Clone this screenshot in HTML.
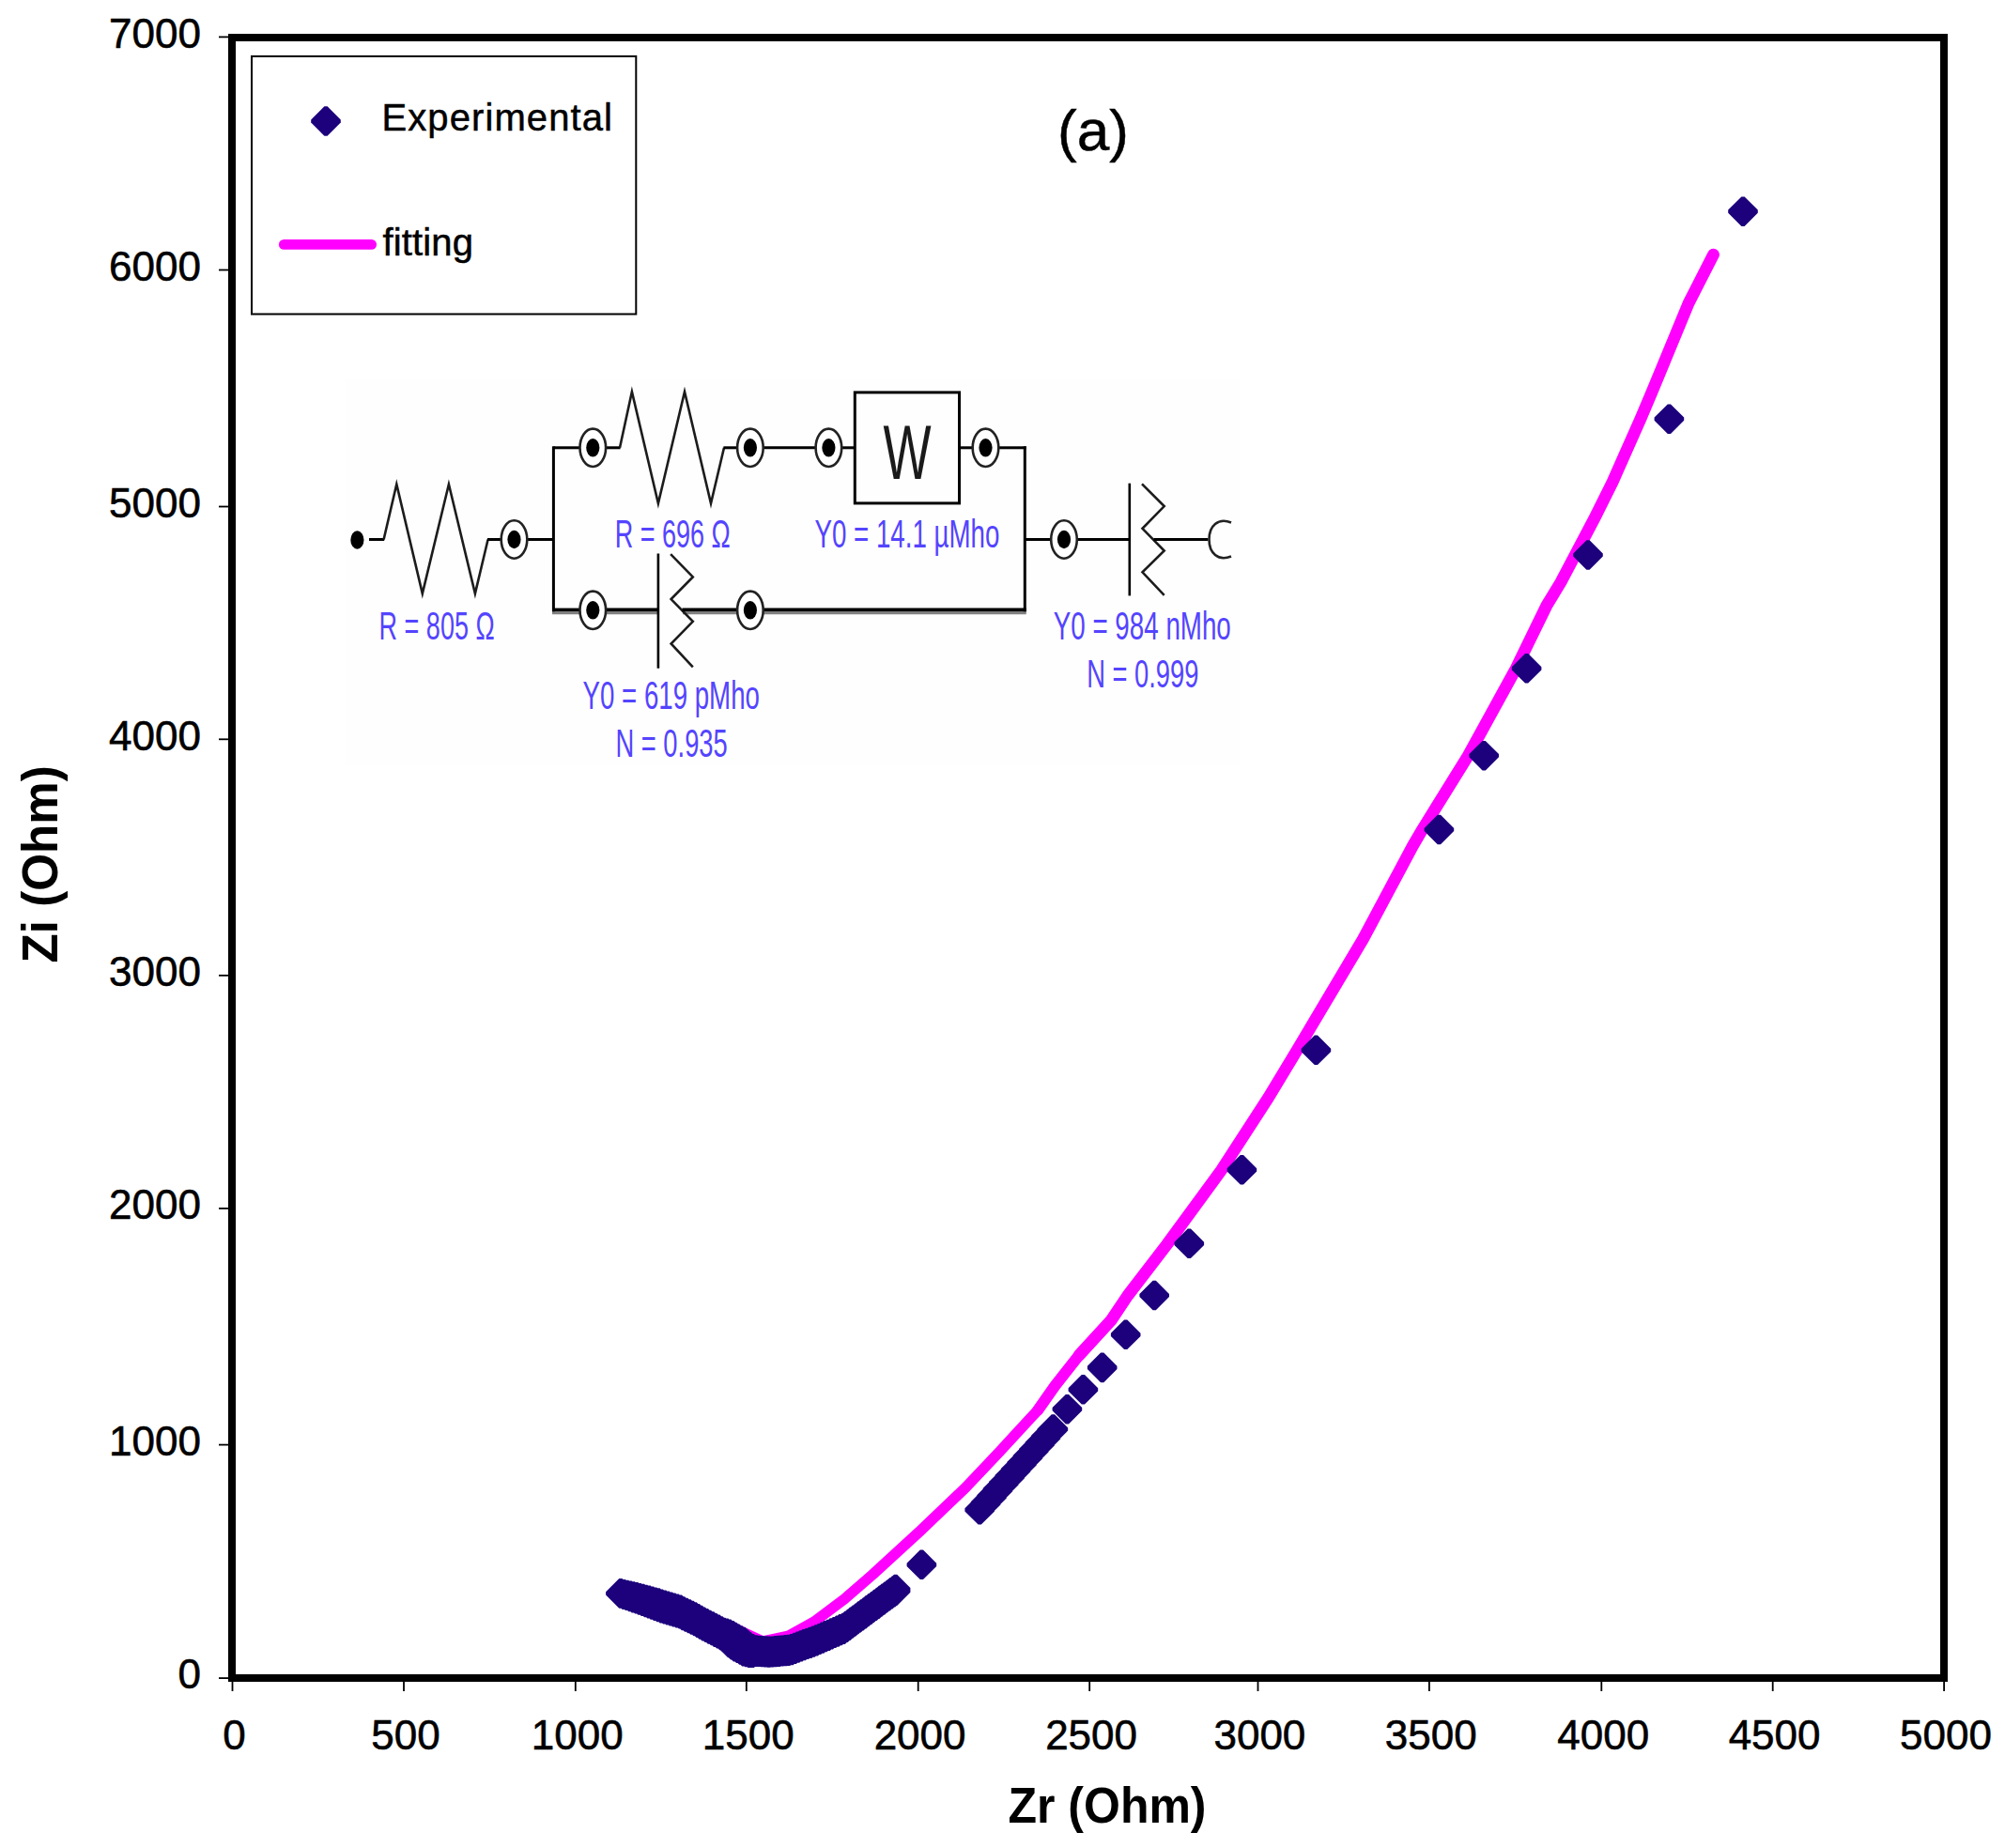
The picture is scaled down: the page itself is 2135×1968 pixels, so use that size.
<!DOCTYPE html>
<html><head><meta charset="utf-8"><title>Nyquist plot (a)</title>
<style>html,body{margin:0;padding:0;background:#fff}body{width:2135px;height:1968px;overflow:hidden}</style></head>
<body>
<svg width="2135" height="1968" viewBox="0 0 2135 1968" style="display:block">
<rect x="0" y="0" width="2135" height="1968" fill="#fff"/>
<rect x="367" y="404" width="953" height="411" fill="#fefefe"/>
<g id="circuit" fill="none" stroke="#000" stroke-width="3" stroke-linecap="butt" stroke-linejoin="miter">
<line x1="588" y1="652.6999999999999" x2="700.9" y2="652.6999999999999" stroke="#808080" stroke-width="3"/>
<line x1="727" y1="652.6999999999999" x2="1092.8" y2="652.6999999999999" stroke="#808080" stroke-width="3"/>
<line x1="393" y1="574.5" x2="409.2" y2="574.5" />
<polyline points="408.6,574.5 422.3,515.7 449.8,632.1 477.9,515.7 505.9,632.1 519.6,574.5" stroke="#1c1c1c" stroke-width="2.6" stroke-miterlimit="10"/>
<line x1="519" y1="574.5" x2="534" y2="574.5" />
<line x1="561" y1="574.5" x2="589.4" y2="574.5" />
<line x1="589.4" y1="475.3" x2="589.4" y2="651.3" />
<line x1="589.4" y1="476.8" x2="618" y2="476.8" />
<line x1="645" y1="476.8" x2="660.6" y2="476.8" />
<polyline points="660,476.8 672.9,417.2 700.9,536.1 729,417.2 757,536.1 771,476.8" stroke="#1c1c1c" stroke-width="2.6" stroke-miterlimit="10"/>
<line x1="770.4" y1="476.8" x2="786" y2="476.8" />
<line x1="812" y1="476.8" x2="869" y2="476.8" />
<line x1="896" y1="476.8" x2="910.3" y2="476.8" />
<rect x="910.3" y="417.9" width="111.2" height="118" fill="none"/>
<line x1="1021.5" y1="476.8" x2="1036" y2="476.8" />
<line x1="1063" y1="476.8" x2="1092.8" y2="476.8" />
<line x1="1091.3" y1="475.3" x2="1091.3" y2="651.3" />
<line x1="588" y1="649.4" x2="618" y2="649.4" stroke-width="3.6"/>
<line x1="645" y1="649.4" x2="700.9" y2="649.4" stroke-width="3.6"/>
<line x1="700.9" y1="589.5" x2="700.9" y2="711.7" stroke-width="2.6"/>
<polyline points="714.1,590.2 737.8,614.4 714.6,638.1 737.8,661.8 714.6,685.5 737.8,710.4" stroke="#1c1c1c" stroke-width="2.6" stroke-miterlimit="10"/>
<line x1="726.5" y1="649.4" x2="786" y2="649.4" stroke-width="3.6"/>
<line x1="812" y1="649.4" x2="1092.8" y2="649.4" stroke-width="3.6"/>
<line x1="1091.3" y1="574.5" x2="1120" y2="574.5" />
<line x1="1146" y1="574.5" x2="1202.8" y2="574.5" />
<line x1="1202.8" y1="514.7" x2="1202.8" y2="634.4" stroke-width="2.6"/>
<polyline points="1216,515.4 1239.7,539.1 1216.5,562.8 1239.7,586.5 1216.5,609.4 1239.7,633.9" stroke="#1c1c1c" stroke-width="2.6" stroke-miterlimit="10"/>
<line x1="1228.5" y1="574.5" x2="1286.4" y2="574.5" />
<path d="M1311 556.5 C1297 551 1287.5 560 1287.5 574.5 C1287.5 589 1297 598 1311 592.5" stroke="#222" stroke-width="2.6"/>
<ellipse cx="547.5" cy="574.5" rx="13.8" ry="20.2" fill="#fff" stroke="#222" stroke-width="2.6"/>
<ellipse cx="547.5" cy="574.5" rx="7.1" ry="9.7" fill="#000" stroke="none"/>
<ellipse cx="631.3" cy="476.8" rx="13.8" ry="20.2" fill="#fff" stroke="#222" stroke-width="2.6"/>
<ellipse cx="631.3" cy="476.8" rx="7.1" ry="9.7" fill="#000" stroke="none"/>
<ellipse cx="798.9" cy="476.8" rx="13.8" ry="20.2" fill="#fff" stroke="#222" stroke-width="2.6"/>
<ellipse cx="798.9" cy="476.8" rx="7.1" ry="9.7" fill="#000" stroke="none"/>
<ellipse cx="882.4" cy="476.8" rx="13.8" ry="20.2" fill="#fff" stroke="#222" stroke-width="2.6"/>
<ellipse cx="882.4" cy="476.8" rx="7.1" ry="9.7" fill="#000" stroke="none"/>
<ellipse cx="1049.5" cy="476.8" rx="13.8" ry="20.2" fill="#fff" stroke="#222" stroke-width="2.6"/>
<ellipse cx="1049.5" cy="476.8" rx="7.1" ry="9.7" fill="#000" stroke="none"/>
<ellipse cx="631.3" cy="649.8" rx="13.8" ry="20.2" fill="#fff" stroke="#222" stroke-width="2.6"/>
<ellipse cx="631.3" cy="649.8" rx="7.1" ry="9.7" fill="#000" stroke="none"/>
<ellipse cx="798.9" cy="649.8" rx="13.8" ry="20.2" fill="#fff" stroke="#222" stroke-width="2.6"/>
<ellipse cx="798.9" cy="649.8" rx="7.1" ry="9.7" fill="#000" stroke="none"/>
<ellipse cx="1133" cy="574.5" rx="13.8" ry="20.2" fill="#fff" stroke="#222" stroke-width="2.6"/>
<ellipse cx="1133" cy="574.5" rx="7.1" ry="9.7" fill="#000" stroke="none"/>
<ellipse cx="380.4" cy="575" rx="7.1" ry="9.7" fill="#000" stroke="none"/>
</g>
<text transform="translate(403.6,680.5) scale(1,1.6)" x="0" y="0" font-family="Liberation Sans, Arial, sans-serif" font-size="27" fill="#5444ff" textLength="123.0" lengthAdjust="spacingAndGlyphs">R = 805 Ω</text>
<text transform="translate(654.7,583.2) scale(1,1.6)" x="0" y="0" font-family="Liberation Sans, Arial, sans-serif" font-size="27" fill="#5444ff" textLength="123.0" lengthAdjust="spacingAndGlyphs">R = 696 Ω</text>
<text transform="translate(620.6,754.8) scale(1,1.6)" x="0" y="0" font-family="Liberation Sans, Arial, sans-serif" font-size="27" fill="#5444ff" textLength="188.3" lengthAdjust="spacingAndGlyphs">Y0 = 619 pMho</text>
<text transform="translate(655.5,806.4) scale(1,1.6)" x="0" y="0" font-family="Liberation Sans, Arial, sans-serif" font-size="27" fill="#5444ff" textLength="119.2" lengthAdjust="spacingAndGlyphs">N = 0.935</text>
<text transform="translate(867.4,583.2) scale(1,1.6)" x="0" y="0" font-family="Liberation Sans, Arial, sans-serif" font-size="27" fill="#5444ff" textLength="197.0" lengthAdjust="spacingAndGlyphs">Y0 = 14.1 µMho</text>
<text transform="translate(1121.8,680.5) scale(1,1.6)" x="0" y="0" font-family="Liberation Sans, Arial, sans-serif" font-size="27" fill="#5444ff" textLength="189.0" lengthAdjust="spacingAndGlyphs">Y0 = 984 nMho</text>
<text transform="translate(1157.2,731.6) scale(1,1.6)" x="0" y="0" font-family="Liberation Sans, Arial, sans-serif" font-size="27" fill="#5444ff" textLength="119.2" lengthAdjust="spacingAndGlyphs">N = 0.999</text>
<text transform="translate(940.5,509.7) scale(1,1.52)" x="0" y="0" font-family="Liberation Sans, Arial, sans-serif" font-size="54" fill="#1a1a1a" textLength="51.1" lengthAdjust="spacingAndGlyphs">W</text>
<polyline fill="none" stroke="#ff00ff" stroke-width="11.4" stroke-linecap="round" stroke-linejoin="round" points="779,1732 786,1736 812,1748 840,1742 867,1727 899,1703 929,1677 980,1630.2 1028,1584.4 1064,1546.3 1105.5,1501.3"/>
<polyline fill="none" stroke="#ff00ff" stroke-width="12" stroke-linecap="round" stroke-linejoin="round" points="1105.5,1501.3 1123.4,1475.8 1149.4,1442.8"/>
<polyline fill="none" stroke="#ff00ff" stroke-width="12.8" stroke-linecap="round" stroke-linejoin="round" points="1149.4,1442.8 1183.3,1405.9 1200.6,1380 1242.5,1325.4 1300.8,1245.8 1350.7,1168.7 1381.2,1118.3 1451.5,1000 1504.4,900.7 1514.5,883.5 1563.4,804.7 1614.3,711.8 1646.9,644.9 1662,620 1698.1,551.4 1717.1,513.3 1746.9,446.2 1758.8,418.1 1798.1,322.9 1824.5,271.2"/>
<path fill="#1c007c" d="M659.3 1681.1h3.2l14.200000000000001 14.200000000000001v3.2l-14.200000000000001 14.200000000000001h-3.2l-14.200000000000001 -14.200000000000001v-3.2zM659.3 1681.1h3.2l14.200000000000001 14.200000000000001v3.2l-14.200000000000001 14.200000000000001h-3.2l-14.200000000000001 -14.200000000000001v-3.2zM662.7 1681.9h3.2l14.200000000000001 14.200000000000001v3.2l-14.200000000000001 14.200000000000001h-3.2l-14.200000000000001 -14.200000000000001v-3.2zM662.7 1682.3h3.2l14.200000000000001 14.200000000000001v3.2l-14.200000000000001 14.200000000000001h-3.2l-14.200000000000001 -14.200000000000001v-3.2zM666.0 1682.7h3.2l14.200000000000001 14.200000000000001v3.2l-14.200000000000001 14.200000000000001h-3.2l-14.200000000000001 -14.200000000000001v-3.2zM666.0 1683.5h3.2l14.200000000000001 14.200000000000001v3.2l-14.200000000000001 14.200000000000001h-3.2l-14.200000000000001 -14.200000000000001v-3.2zM669.4 1683.5h3.2l14.200000000000001 14.200000000000001v3.2l-14.200000000000001 14.200000000000001h-3.2l-14.200000000000001 -14.200000000000001v-3.2zM669.4 1684.7h3.2l14.200000000000001 14.200000000000001v3.2l-14.200000000000001 14.200000000000001h-3.2l-14.200000000000001 -14.200000000000001v-3.2zM672.7 1684.3h3.2l14.200000000000001 14.200000000000001v3.2l-14.200000000000001 14.200000000000001h-3.2l-14.200000000000001 -14.200000000000001v-3.2zM672.7 1685.8h3.2l14.200000000000001 14.200000000000001v3.2l-14.200000000000001 14.200000000000001h-3.2l-14.200000000000001 -14.200000000000001v-3.2zM676.1 1685.1h3.2l14.200000000000001 14.200000000000001v3.2l-14.200000000000001 14.200000000000001h-3.2l-14.200000000000001 -14.200000000000001v-3.2zM676.1 1687.0h3.2l14.200000000000001 14.200000000000001v3.2l-14.200000000000001 14.200000000000001h-3.2l-14.200000000000001 -14.200000000000001v-3.2zM679.4 1685.9h3.2l14.200000000000001 14.200000000000001v3.2l-14.200000000000001 14.200000000000001h-3.2l-14.200000000000001 -14.200000000000001v-3.2zM679.4 1688.2h3.2l14.200000000000001 14.200000000000001v3.2l-14.200000000000001 14.200000000000001h-3.2l-14.200000000000001 -14.200000000000001v-3.2zM682.8 1686.8h3.2l14.200000000000001 14.200000000000001v3.2l-14.200000000000001 14.200000000000001h-3.2l-14.200000000000001 -14.200000000000001v-3.2zM682.8 1689.4h3.2l14.200000000000001 14.200000000000001v3.2l-14.200000000000001 14.200000000000001h-3.2l-14.200000000000001 -14.200000000000001v-3.2zM686.1 1687.7h3.2l14.200000000000001 14.200000000000001v3.2l-14.200000000000001 14.200000000000001h-3.2l-14.200000000000001 -14.200000000000001v-3.2zM686.1 1690.7h3.2l14.200000000000001 14.200000000000001v3.2l-14.200000000000001 14.200000000000001h-3.2l-14.200000000000001 -14.200000000000001v-3.2zM689.4 1688.6h3.2l14.200000000000001 14.200000000000001v3.2l-14.200000000000001 14.200000000000001h-3.2l-14.200000000000001 -14.200000000000001v-3.2zM689.4 1692.0h3.2l14.200000000000001 14.200000000000001v3.2l-14.200000000000001 14.200000000000001h-3.2l-14.200000000000001 -14.200000000000001v-3.2zM692.8 1689.5h3.2l14.200000000000001 14.200000000000001v3.2l-14.200000000000001 14.200000000000001h-3.2l-14.200000000000001 -14.200000000000001v-3.2zM692.8 1693.2h3.2l14.200000000000001 14.200000000000001v3.2l-14.200000000000001 14.200000000000001h-3.2l-14.200000000000001 -14.200000000000001v-3.2zM696.1 1690.4h3.2l14.200000000000001 14.200000000000001v3.2l-14.200000000000001 14.200000000000001h-3.2l-14.200000000000001 -14.200000000000001v-3.2zM696.1 1694.5h3.2l14.200000000000001 14.200000000000001v3.2l-14.200000000000001 14.200000000000001h-3.2l-14.200000000000001 -14.200000000000001v-3.2zM699.4 1691.3h3.2l14.200000000000001 14.200000000000001v3.2l-14.200000000000001 14.200000000000001h-3.2l-14.200000000000001 -14.200000000000001v-3.2zM699.4 1695.7h3.2l14.200000000000001 14.200000000000001v3.2l-14.200000000000001 14.200000000000001h-3.2l-14.200000000000001 -14.200000000000001v-3.2zM702.7 1692.4h3.2l14.200000000000001 14.200000000000001v3.2l-14.200000000000001 14.200000000000001h-3.2l-14.200000000000001 -14.200000000000001v-3.2zM702.7 1696.8h3.2l14.200000000000001 14.200000000000001v3.2l-14.200000000000001 14.200000000000001h-3.2l-14.200000000000001 -14.200000000000001v-3.2zM706.1 1693.5h3.2l14.200000000000001 14.200000000000001v3.2l-14.200000000000001 14.200000000000001h-3.2l-14.200000000000001 -14.200000000000001v-3.2zM706.1 1697.9h3.2l14.200000000000001 14.200000000000001v3.2l-14.200000000000001 14.200000000000001h-3.2l-14.200000000000001 -14.200000000000001v-3.2zM709.4 1694.5h3.2l14.200000000000001 14.200000000000001v3.2l-14.200000000000001 14.200000000000001h-3.2l-14.200000000000001 -14.200000000000001v-3.2zM709.4 1698.9h3.2l14.200000000000001 14.200000000000001v3.2l-14.200000000000001 14.200000000000001h-3.2l-14.200000000000001 -14.200000000000001v-3.2zM712.8 1695.5h3.2l14.200000000000001 14.200000000000001v3.2l-14.200000000000001 14.200000000000001h-3.2l-14.200000000000001 -14.200000000000001v-3.2zM712.8 1699.9h3.2l14.200000000000001 14.200000000000001v3.2l-14.200000000000001 14.200000000000001h-3.2l-14.200000000000001 -14.200000000000001v-3.2zM716.1 1696.5h3.2l14.200000000000001 14.200000000000001v3.2l-14.200000000000001 14.200000000000001h-3.2l-14.200000000000001 -14.200000000000001v-3.2zM716.1 1700.9h3.2l14.200000000000001 14.200000000000001v3.2l-14.200000000000001 14.200000000000001h-3.2l-14.200000000000001 -14.200000000000001v-3.2zM719.5 1697.5h3.2l14.200000000000001 14.200000000000001v3.2l-14.200000000000001 14.200000000000001h-3.2l-14.200000000000001 -14.200000000000001v-3.2zM719.5 1701.9h3.2l14.200000000000001 14.200000000000001v3.2l-14.200000000000001 14.200000000000001h-3.2l-14.200000000000001 -14.200000000000001v-3.2zM722.8 1698.6h3.2l14.200000000000001 14.200000000000001v3.2l-14.200000000000001 14.200000000000001h-3.2l-14.200000000000001 -14.200000000000001v-3.2zM722.8 1703.0h3.2l14.200000000000001 14.200000000000001v3.2l-14.200000000000001 14.200000000000001h-3.2l-14.200000000000001 -14.200000000000001v-3.2zM725.9 1700.2h3.2l14.200000000000001 14.200000000000001v3.2l-14.200000000000001 14.200000000000001h-3.2l-14.200000000000001 -14.200000000000001v-3.2zM725.9 1704.6h3.2l14.200000000000001 14.200000000000001v3.2l-14.200000000000001 14.200000000000001h-3.2l-14.200000000000001 -14.200000000000001v-3.2zM729.1 1701.7h3.2l14.200000000000001 14.200000000000001v3.2l-14.200000000000001 14.200000000000001h-3.2l-14.200000000000001 -14.200000000000001v-3.2zM729.1 1706.1h3.2l14.200000000000001 14.200000000000001v3.2l-14.200000000000001 14.200000000000001h-3.2l-14.200000000000001 -14.200000000000001v-3.2zM732.3 1703.2h3.2l14.200000000000001 14.200000000000001v3.2l-14.200000000000001 14.200000000000001h-3.2l-14.200000000000001 -14.200000000000001v-3.2zM732.3 1707.6h3.2l14.200000000000001 14.200000000000001v3.2l-14.200000000000001 14.200000000000001h-3.2l-14.200000000000001 -14.200000000000001v-3.2zM735.4 1704.7h3.2l14.200000000000001 14.200000000000001v3.2l-14.200000000000001 14.200000000000001h-3.2l-14.200000000000001 -14.200000000000001v-3.2zM735.4 1709.1h3.2l14.200000000000001 14.200000000000001v3.2l-14.200000000000001 14.200000000000001h-3.2l-14.200000000000001 -14.200000000000001v-3.2zM738.5 1706.3h3.2l14.200000000000001 14.200000000000001v3.2l-14.200000000000001 14.200000000000001h-3.2l-14.200000000000001 -14.200000000000001v-3.2zM738.5 1710.7h3.2l14.200000000000001 14.200000000000001v3.2l-14.200000000000001 14.200000000000001h-3.2l-14.200000000000001 -14.200000000000001v-3.2zM741.6 1708.0h3.2l14.200000000000001 14.200000000000001v3.2l-14.200000000000001 14.200000000000001h-3.2l-14.200000000000001 -14.200000000000001v-3.2zM741.6 1712.4h3.2l14.200000000000001 14.200000000000001v3.2l-14.200000000000001 14.200000000000001h-3.2l-14.200000000000001 -14.200000000000001v-3.2zM744.6 1709.8h3.2l14.200000000000001 14.200000000000001v3.2l-14.200000000000001 14.200000000000001h-3.2l-14.200000000000001 -14.200000000000001v-3.2zM744.6 1714.2h3.2l14.200000000000001 14.200000000000001v3.2l-14.200000000000001 14.200000000000001h-3.2l-14.200000000000001 -14.200000000000001v-3.2zM747.6 1711.5h3.2l14.200000000000001 14.200000000000001v3.2l-14.200000000000001 14.200000000000001h-3.2l-14.200000000000001 -14.200000000000001v-3.2zM747.6 1715.9h3.2l14.200000000000001 14.200000000000001v3.2l-14.200000000000001 14.200000000000001h-3.2l-14.200000000000001 -14.200000000000001v-3.2zM750.7 1713.1h3.2l14.200000000000001 14.200000000000001v3.2l-14.200000000000001 14.200000000000001h-3.2l-14.200000000000001 -14.200000000000001v-3.2zM750.7 1717.5h3.2l14.200000000000001 14.200000000000001v3.2l-14.200000000000001 14.200000000000001h-3.2l-14.200000000000001 -14.200000000000001v-3.2zM753.8 1714.7h3.2l14.200000000000001 14.200000000000001v3.2l-14.200000000000001 14.200000000000001h-3.2l-14.200000000000001 -14.200000000000001v-3.2zM753.8 1719.1h3.2l14.200000000000001 14.200000000000001v3.2l-14.200000000000001 14.200000000000001h-3.2l-14.200000000000001 -14.200000000000001v-3.2zM757.0 1716.3h3.2l14.200000000000001 14.200000000000001v3.2l-14.200000000000001 14.200000000000001h-3.2l-14.200000000000001 -14.200000000000001v-3.2zM757.0 1720.7h3.2l14.200000000000001 14.200000000000001v3.2l-14.200000000000001 14.200000000000001h-3.2l-14.200000000000001 -14.200000000000001v-3.2zM760.1 1717.9h3.2l14.200000000000001 14.200000000000001v3.2l-14.200000000000001 14.200000000000001h-3.2l-14.200000000000001 -14.200000000000001v-3.2zM760.1 1722.3h3.2l14.200000000000001 14.200000000000001v3.2l-14.200000000000001 14.200000000000001h-3.2l-14.200000000000001 -14.200000000000001v-3.2zM763.2 1719.5h3.2l14.200000000000001 14.200000000000001v3.2l-14.200000000000001 14.200000000000001h-3.2l-14.200000000000001 -14.200000000000001v-3.2zM763.2 1723.9h3.2l14.200000000000001 14.200000000000001v3.2l-14.200000000000001 14.200000000000001h-3.2l-14.200000000000001 -14.200000000000001v-3.2zM766.3 1721.2h3.2l14.200000000000001 14.200000000000001v3.2l-14.200000000000001 14.200000000000001h-3.2l-14.200000000000001 -14.200000000000001v-3.2zM766.3 1725.6h3.2l14.200000000000001 14.200000000000001v3.2l-14.200000000000001 14.200000000000001h-3.2l-14.200000000000001 -14.200000000000001v-3.2zM769.2 1722.8h3.2l14.200000000000001 14.200000000000001v3.2l-14.200000000000001 14.200000000000001h-3.2l-14.200000000000001 -14.200000000000001v-3.2zM769.2 1727.8h3.2l14.200000000000001 14.200000000000001v3.2l-14.200000000000001 14.200000000000001h-3.2l-14.200000000000001 -14.200000000000001v-3.2zM772.2 1723.6h3.2l14.200000000000001 14.200000000000001v3.2l-14.200000000000001 14.200000000000001h-3.2l-14.200000000000001 -14.200000000000001v-3.2zM772.2 1730.7h3.2l14.200000000000001 14.200000000000001v3.2l-14.200000000000001 14.200000000000001h-3.2l-14.200000000000001 -14.200000000000001v-3.2zM775.1 1724.5h3.2l14.200000000000001 14.200000000000001v3.2l-14.200000000000001 14.200000000000001h-3.2l-14.200000000000001 -14.200000000000001v-3.2zM775.1 1733.6h3.2l14.200000000000001 14.200000000000001v3.2l-14.200000000000001 14.200000000000001h-3.2l-14.200000000000001 -14.200000000000001v-3.2zM778.1 1725.9h3.2l14.200000000000001 14.200000000000001v3.2l-14.200000000000001 14.200000000000001h-3.2l-14.200000000000001 -14.200000000000001v-3.2zM778.1 1735.9h3.2l14.200000000000001 14.200000000000001v3.2l-14.200000000000001 14.200000000000001h-3.2l-14.200000000000001 -14.200000000000001v-3.2zM781.0 1727.8h3.2l14.200000000000001 14.200000000000001v3.2l-14.200000000000001 14.200000000000001h-3.2l-14.200000000000001 -14.200000000000001v-3.2zM781.0 1737.8h3.2l14.200000000000001 14.200000000000001v3.2l-14.200000000000001 14.200000000000001h-3.2l-14.200000000000001 -14.200000000000001v-3.2zM784.1 1729.5h3.2l14.200000000000001 14.200000000000001v3.2l-14.200000000000001 14.200000000000001h-3.2l-14.200000000000001 -14.200000000000001v-3.2zM784.1 1739.5h3.2l14.200000000000001 14.200000000000001v3.2l-14.200000000000001 14.200000000000001h-3.2l-14.200000000000001 -14.200000000000001v-3.2zM787.2 1731.2h3.2l14.200000000000001 14.200000000000001v3.2l-14.200000000000001 14.200000000000001h-3.2l-14.200000000000001 -14.200000000000001v-3.2zM787.2 1741.2h3.2l14.200000000000001 14.200000000000001v3.2l-14.200000000000001 14.200000000000001h-3.2l-14.200000000000001 -14.200000000000001v-3.2zM790.2 1732.8h3.2l14.200000000000001 14.200000000000001v3.2l-14.200000000000001 14.200000000000001h-3.2l-14.200000000000001 -14.200000000000001v-3.2zM790.2 1742.8h3.2l14.200000000000001 14.200000000000001v3.2l-14.200000000000001 14.200000000000001h-3.2l-14.200000000000001 -14.200000000000001v-3.2zM793.3 1735.4h3.2l14.200000000000001 14.200000000000001v3.2l-14.200000000000001 14.200000000000001h-3.2l-14.200000000000001 -14.200000000000001v-3.2zM793.3 1743.6h3.2l14.200000000000001 14.200000000000001v3.2l-14.200000000000001 14.200000000000001h-3.2l-14.200000000000001 -14.200000000000001v-3.2zM796.4 1737.9h3.2l14.200000000000001 14.200000000000001v3.2l-14.200000000000001 14.200000000000001h-3.2l-14.200000000000001 -14.200000000000001v-3.2zM796.4 1744.3h3.2l14.200000000000001 14.200000000000001v3.2l-14.200000000000001 14.200000000000001h-3.2l-14.200000000000001 -14.200000000000001v-3.2zM799.7 1739.9h3.2l14.200000000000001 14.200000000000001v3.2l-14.200000000000001 14.200000000000001h-3.2l-14.200000000000001 -14.200000000000001v-3.2zM799.7 1744.3h3.2l14.200000000000001 14.200000000000001v3.2l-14.200000000000001 14.200000000000001h-3.2l-14.200000000000001 -14.200000000000001v-3.2zM803.2 1741.2h3.2l14.200000000000001 14.200000000000001v3.2l-14.200000000000001 14.200000000000001h-3.2l-14.200000000000001 -14.200000000000001v-3.2zM803.2 1743.5h3.2l14.200000000000001 14.200000000000001v3.2l-14.200000000000001 14.200000000000001h-3.2l-14.200000000000001 -14.200000000000001v-3.2zM806.7 1741.8h3.2l14.200000000000001 14.200000000000001v3.2l-14.200000000000001 14.200000000000001h-3.2l-14.200000000000001 -14.200000000000001v-3.2zM806.7 1743.4h3.2l14.200000000000001 14.200000000000001v3.2l-14.200000000000001 14.200000000000001h-3.2l-14.200000000000001 -14.200000000000001v-3.2zM810.2 1742.1h3.2l14.200000000000001 14.200000000000001v3.2l-14.200000000000001 14.200000000000001h-3.2l-14.200000000000001 -14.200000000000001v-3.2zM810.2 1743.7h3.2l14.200000000000001 14.200000000000001v3.2l-14.200000000000001 14.200000000000001h-3.2l-14.200000000000001 -14.200000000000001v-3.2zM813.6 1742.3h3.2l14.200000000000001 14.200000000000001v3.2l-14.200000000000001 14.200000000000001h-3.2l-14.200000000000001 -14.200000000000001v-3.2zM813.6 1743.9h3.2l14.200000000000001 14.200000000000001v3.2l-14.200000000000001 14.200000000000001h-3.2l-14.200000000000001 -14.200000000000001v-3.2zM817.1 1742.5h3.2l14.200000000000001 14.200000000000001v3.2l-14.200000000000001 14.200000000000001h-3.2l-14.200000000000001 -14.200000000000001v-3.2zM817.1 1744.1h3.2l14.200000000000001 14.200000000000001v3.2l-14.200000000000001 14.200000000000001h-3.2l-14.200000000000001 -14.200000000000001v-3.2zM820.6 1742.4h3.2l14.200000000000001 14.200000000000001v3.2l-14.200000000000001 14.200000000000001h-3.2l-14.200000000000001 -14.200000000000001v-3.2zM820.6 1744.0h3.2l14.200000000000001 14.200000000000001v3.2l-14.200000000000001 14.200000000000001h-3.2l-14.200000000000001 -14.200000000000001v-3.2zM824.1 1742.0h3.2l14.200000000000001 14.200000000000001v3.2l-14.200000000000001 14.200000000000001h-3.2l-14.200000000000001 -14.200000000000001v-3.2zM824.1 1743.6h3.2l14.200000000000001 14.200000000000001v3.2l-14.200000000000001 14.200000000000001h-3.2l-14.200000000000001 -14.200000000000001v-3.2zM827.6 1741.7h3.2l14.200000000000001 14.200000000000001v3.2l-14.200000000000001 14.200000000000001h-3.2l-14.200000000000001 -14.200000000000001v-3.2zM827.6 1743.3h3.2l14.200000000000001 14.200000000000001v3.2l-14.200000000000001 14.200000000000001h-3.2l-14.200000000000001 -14.200000000000001v-3.2zM831.1 1741.4h3.2l14.200000000000001 14.200000000000001v3.2l-14.200000000000001 14.200000000000001h-3.2l-14.200000000000001 -14.200000000000001v-3.2zM831.1 1743.0h3.2l14.200000000000001 14.200000000000001v3.2l-14.200000000000001 14.200000000000001h-3.2l-14.200000000000001 -14.200000000000001v-3.2zM834.6 1741.1h3.2l14.200000000000001 14.200000000000001v3.2l-14.200000000000001 14.200000000000001h-3.2l-14.200000000000001 -14.200000000000001v-3.2zM834.6 1742.7h3.2l14.200000000000001 14.200000000000001v3.2l-14.200000000000001 14.200000000000001h-3.2l-14.200000000000001 -14.200000000000001v-3.2zM838.0 1740.8h3.2l14.200000000000001 14.200000000000001v3.2l-14.200000000000001 14.200000000000001h-3.2l-14.200000000000001 -14.200000000000001v-3.2zM838.0 1742.4h3.2l14.200000000000001 14.200000000000001v3.2l-14.200000000000001 14.200000000000001h-3.2l-14.200000000000001 -14.200000000000001v-3.2zM841.4 1740.0h3.2l14.200000000000001 14.200000000000001v3.2l-14.200000000000001 14.200000000000001h-3.2l-14.200000000000001 -14.200000000000001v-3.2zM841.4 1741.6h3.2l14.200000000000001 14.200000000000001v3.2l-14.200000000000001 14.200000000000001h-3.2l-14.200000000000001 -14.200000000000001v-3.2zM844.7 1738.8h3.2l14.200000000000001 14.200000000000001v3.2l-14.200000000000001 14.200000000000001h-3.2l-14.200000000000001 -14.200000000000001v-3.2zM844.7 1740.4h3.2l14.200000000000001 14.200000000000001v3.2l-14.200000000000001 14.200000000000001h-3.2l-14.200000000000001 -14.200000000000001v-3.2zM848.0 1737.6h3.2l14.200000000000001 14.200000000000001v3.2l-14.200000000000001 14.200000000000001h-3.2l-14.200000000000001 -14.200000000000001v-3.2zM848.0 1739.2h3.2l14.200000000000001 14.200000000000001v3.2l-14.200000000000001 14.200000000000001h-3.2l-14.200000000000001 -14.200000000000001v-3.2zM851.3 1736.3h3.2l14.200000000000001 14.200000000000001v3.2l-14.200000000000001 14.200000000000001h-3.2l-14.200000000000001 -14.200000000000001v-3.2zM851.3 1737.9h3.2l14.200000000000001 14.200000000000001v3.2l-14.200000000000001 14.200000000000001h-3.2l-14.200000000000001 -14.200000000000001v-3.2zM854.6 1735.1h3.2l14.200000000000001 14.200000000000001v3.2l-14.200000000000001 14.200000000000001h-3.2l-14.200000000000001 -14.200000000000001v-3.2zM854.6 1736.7h3.2l14.200000000000001 14.200000000000001v3.2l-14.200000000000001 14.200000000000001h-3.2l-14.200000000000001 -14.200000000000001v-3.2zM857.8 1733.9h3.2l14.200000000000001 14.200000000000001v3.2l-14.200000000000001 14.200000000000001h-3.2l-14.200000000000001 -14.200000000000001v-3.2zM857.8 1735.5h3.2l14.200000000000001 14.200000000000001v3.2l-14.200000000000001 14.200000000000001h-3.2l-14.200000000000001 -14.200000000000001v-3.2zM861.1 1732.7h3.2l14.200000000000001 14.200000000000001v3.2l-14.200000000000001 14.200000000000001h-3.2l-14.200000000000001 -14.200000000000001v-3.2zM861.1 1734.3h3.2l14.200000000000001 14.200000000000001v3.2l-14.200000000000001 14.200000000000001h-3.2l-14.200000000000001 -14.200000000000001v-3.2zM864.4 1731.5h3.2l14.200000000000001 14.200000000000001v3.2l-14.200000000000001 14.200000000000001h-3.2l-14.200000000000001 -14.200000000000001v-3.2zM864.4 1733.1h3.2l14.200000000000001 14.200000000000001v3.2l-14.200000000000001 14.200000000000001h-3.2l-14.200000000000001 -14.200000000000001v-3.2zM867.7 1730.2h3.2l14.200000000000001 14.200000000000001v3.2l-14.200000000000001 14.200000000000001h-3.2l-14.200000000000001 -14.200000000000001v-3.2zM867.7 1731.8h3.2l14.200000000000001 14.200000000000001v3.2l-14.200000000000001 14.200000000000001h-3.2l-14.200000000000001 -14.200000000000001v-3.2zM870.9 1728.9h3.2l14.200000000000001 14.200000000000001v3.2l-14.200000000000001 14.200000000000001h-3.2l-14.200000000000001 -14.200000000000001v-3.2zM870.9 1730.5h3.2l14.200000000000001 14.200000000000001v3.2l-14.200000000000001 14.200000000000001h-3.2l-14.200000000000001 -14.200000000000001v-3.2zM874.1 1727.5h3.2l14.200000000000001 14.200000000000001v3.2l-14.200000000000001 14.200000000000001h-3.2l-14.200000000000001 -14.200000000000001v-3.2zM874.1 1729.1h3.2l14.200000000000001 14.200000000000001v3.2l-14.200000000000001 14.200000000000001h-3.2l-14.200000000000001 -14.200000000000001v-3.2zM877.3 1726.1h3.2l14.200000000000001 14.200000000000001v3.2l-14.200000000000001 14.200000000000001h-3.2l-14.200000000000001 -14.200000000000001v-3.2zM877.3 1727.7h3.2l14.200000000000001 14.200000000000001v3.2l-14.200000000000001 14.200000000000001h-3.2l-14.200000000000001 -14.200000000000001v-3.2zM880.5 1724.7h3.2l14.200000000000001 14.200000000000001v3.2l-14.200000000000001 14.200000000000001h-3.2l-14.200000000000001 -14.200000000000001v-3.2zM880.5 1726.3h3.2l14.200000000000001 14.200000000000001v3.2l-14.200000000000001 14.200000000000001h-3.2l-14.200000000000001 -14.200000000000001v-3.2zM883.7 1723.3h3.2l14.200000000000001 14.200000000000001v3.2l-14.200000000000001 14.200000000000001h-3.2l-14.200000000000001 -14.200000000000001v-3.2zM883.7 1724.9h3.2l14.200000000000001 14.200000000000001v3.2l-14.200000000000001 14.200000000000001h-3.2l-14.200000000000001 -14.200000000000001v-3.2zM886.9 1721.9h3.2l14.200000000000001 14.200000000000001v3.2l-14.200000000000001 14.200000000000001h-3.2l-14.200000000000001 -14.200000000000001v-3.2zM886.9 1723.5h3.2l14.200000000000001 14.200000000000001v3.2l-14.200000000000001 14.200000000000001h-3.2l-14.200000000000001 -14.200000000000001v-3.2zM890.2 1720.5h3.2l14.200000000000001 14.200000000000001v3.2l-14.200000000000001 14.200000000000001h-3.2l-14.200000000000001 -14.200000000000001v-3.2zM890.2 1722.1h3.2l14.200000000000001 14.200000000000001v3.2l-14.200000000000001 14.200000000000001h-3.2l-14.200000000000001 -14.200000000000001v-3.2zM893.4 1719.1h3.2l14.200000000000001 14.200000000000001v3.2l-14.200000000000001 14.200000000000001h-3.2l-14.200000000000001 -14.200000000000001v-3.2zM893.4 1720.7h3.2l14.200000000000001 14.200000000000001v3.2l-14.200000000000001 14.200000000000001h-3.2l-14.200000000000001 -14.200000000000001v-3.2zM896.6 1717.7h3.2l14.200000000000001 14.200000000000001v3.2l-14.200000000000001 14.200000000000001h-3.2l-14.200000000000001 -14.200000000000001v-3.2zM896.6 1719.3h3.2l14.200000000000001 14.200000000000001v3.2l-14.200000000000001 14.200000000000001h-3.2l-14.200000000000001 -14.200000000000001v-3.2zM899.5 1715.8h3.2l14.200000000000001 14.200000000000001v3.2l-14.200000000000001 14.200000000000001h-3.2l-14.200000000000001 -14.200000000000001v-3.2zM899.5 1717.4h3.2l14.200000000000001 14.200000000000001v3.2l-14.200000000000001 14.200000000000001h-3.2l-14.200000000000001 -14.200000000000001v-3.2zM902.3 1713.7h3.2l14.200000000000001 14.200000000000001v3.2l-14.200000000000001 14.200000000000001h-3.2l-14.200000000000001 -14.200000000000001v-3.2zM902.3 1715.3h3.2l14.200000000000001 14.200000000000001v3.2l-14.200000000000001 14.200000000000001h-3.2l-14.200000000000001 -14.200000000000001v-3.2zM905.1 1711.6h3.2l14.200000000000001 14.200000000000001v3.2l-14.200000000000001 14.200000000000001h-3.2l-14.200000000000001 -14.200000000000001v-3.2zM905.1 1713.2h3.2l14.200000000000001 14.200000000000001v3.2l-14.200000000000001 14.200000000000001h-3.2l-14.200000000000001 -14.200000000000001v-3.2zM907.9 1709.5h3.2l14.200000000000001 14.200000000000001v3.2l-14.200000000000001 14.200000000000001h-3.2l-14.200000000000001 -14.200000000000001v-3.2zM907.9 1711.1h3.2l14.200000000000001 14.200000000000001v3.2l-14.200000000000001 14.200000000000001h-3.2l-14.200000000000001 -14.200000000000001v-3.2zM910.7 1707.4h3.2l14.200000000000001 14.200000000000001v3.2l-14.200000000000001 14.200000000000001h-3.2l-14.200000000000001 -14.200000000000001v-3.2zM910.7 1709.0h3.2l14.200000000000001 14.200000000000001v3.2l-14.200000000000001 14.200000000000001h-3.2l-14.200000000000001 -14.200000000000001v-3.2zM913.5 1705.3h3.2l14.200000000000001 14.200000000000001v3.2l-14.200000000000001 14.200000000000001h-3.2l-14.200000000000001 -14.200000000000001v-3.2zM913.5 1706.9h3.2l14.200000000000001 14.200000000000001v3.2l-14.200000000000001 14.200000000000001h-3.2l-14.200000000000001 -14.200000000000001v-3.2zM916.3 1703.3h3.2l14.200000000000001 14.200000000000001v3.2l-14.200000000000001 14.200000000000001h-3.2l-14.200000000000001 -14.200000000000001v-3.2zM916.3 1704.9h3.2l14.200000000000001 14.200000000000001v3.2l-14.200000000000001 14.200000000000001h-3.2l-14.200000000000001 -14.200000000000001v-3.2zM919.1 1701.2h3.2l14.200000000000001 14.200000000000001v3.2l-14.200000000000001 14.200000000000001h-3.2l-14.200000000000001 -14.200000000000001v-3.2zM919.1 1702.8h3.2l14.200000000000001 14.200000000000001v3.2l-14.200000000000001 14.200000000000001h-3.2l-14.200000000000001 -14.200000000000001v-3.2zM921.9 1699.1h3.2l14.200000000000001 14.200000000000001v3.2l-14.200000000000001 14.200000000000001h-3.2l-14.200000000000001 -14.200000000000001v-3.2zM921.9 1700.7h3.2l14.200000000000001 14.200000000000001v3.2l-14.200000000000001 14.200000000000001h-3.2l-14.200000000000001 -14.200000000000001v-3.2zM924.7 1697.0h3.2l14.200000000000001 14.200000000000001v3.2l-14.200000000000001 14.200000000000001h-3.2l-14.200000000000001 -14.200000000000001v-3.2zM924.7 1698.6h3.2l14.200000000000001 14.200000000000001v3.2l-14.200000000000001 14.200000000000001h-3.2l-14.200000000000001 -14.200000000000001v-3.2zM927.5 1694.9h3.2l14.200000000000001 14.200000000000001v3.2l-14.200000000000001 14.200000000000001h-3.2l-14.200000000000001 -14.200000000000001v-3.2zM927.5 1696.5h3.2l14.200000000000001 14.200000000000001v3.2l-14.200000000000001 14.200000000000001h-3.2l-14.200000000000001 -14.200000000000001v-3.2zM930.4 1692.8h3.2l14.200000000000001 14.200000000000001v3.2l-14.200000000000001 14.200000000000001h-3.2l-14.200000000000001 -14.200000000000001v-3.2zM930.4 1694.4h3.2l14.200000000000001 14.200000000000001v3.2l-14.200000000000001 14.200000000000001h-3.2l-14.200000000000001 -14.200000000000001v-3.2zM933.2 1690.7h3.2l14.200000000000001 14.200000000000001v3.2l-14.200000000000001 14.200000000000001h-3.2l-14.200000000000001 -14.200000000000001v-3.2zM933.2 1692.3h3.2l14.200000000000001 14.200000000000001v3.2l-14.200000000000001 14.200000000000001h-3.2l-14.200000000000001 -14.200000000000001v-3.2zM936.0 1688.6h3.2l14.200000000000001 14.200000000000001v3.2l-14.200000000000001 14.200000000000001h-3.2l-14.200000000000001 -14.200000000000001v-3.2zM936.0 1690.2h3.2l14.200000000000001 14.200000000000001v3.2l-14.200000000000001 14.200000000000001h-3.2l-14.200000000000001 -14.200000000000001v-3.2zM938.8 1686.5h3.2l14.200000000000001 14.200000000000001v3.2l-14.200000000000001 14.200000000000001h-3.2l-14.200000000000001 -14.200000000000001v-3.2zM938.8 1688.1h3.2l14.200000000000001 14.200000000000001v3.2l-14.200000000000001 14.200000000000001h-3.2l-14.200000000000001 -14.200000000000001v-3.2zM941.6 1684.4h3.2l14.200000000000001 14.200000000000001v3.2l-14.200000000000001 14.200000000000001h-3.2l-14.200000000000001 -14.200000000000001v-3.2zM941.6 1686.0h3.2l14.200000000000001 14.200000000000001v3.2l-14.200000000000001 14.200000000000001h-3.2l-14.200000000000001 -14.200000000000001v-3.2zM944.4 1682.4h3.2l14.200000000000001 14.200000000000001v3.2l-14.200000000000001 14.200000000000001h-3.2l-14.200000000000001 -14.200000000000001v-3.2zM944.4 1684.0h3.2l14.200000000000001 14.200000000000001v3.2l-14.200000000000001 14.200000000000001h-3.2l-14.200000000000001 -14.200000000000001v-3.2zM947.2 1680.3h3.2l14.200000000000001 14.200000000000001v3.2l-14.200000000000001 14.200000000000001h-3.2l-14.200000000000001 -14.200000000000001v-3.2zM947.2 1681.9h3.2l14.200000000000001 14.200000000000001v3.2l-14.200000000000001 14.200000000000001h-3.2l-14.200000000000001 -14.200000000000001v-3.2zM950.0 1678.2h3.2l14.200000000000001 14.200000000000001v3.2l-14.200000000000001 14.200000000000001h-3.2l-14.200000000000001 -14.200000000000001v-3.2zM950.0 1679.8h3.2l14.200000000000001 14.200000000000001v3.2l-14.200000000000001 14.200000000000001h-3.2l-14.200000000000001 -14.200000000000001v-3.2zM952.0 1676.7h3.2l14.200000000000001 14.200000000000001v3.2l-14.200000000000001 14.200000000000001h-3.2l-14.200000000000001 -14.200000000000001v-3.2zM952.0 1678.3h3.2l14.200000000000001 14.200000000000001v3.2l-14.200000000000001 14.200000000000001h-3.2l-14.200000000000001 -14.200000000000001v-3.2zM1041.6 1592.0h3.2l14.200000000000001 14.200000000000001v3.2l-14.200000000000001 14.200000000000001h-3.2l-14.200000000000001 -14.200000000000001v-3.2zM1048.0 1585.0h3.2l14.200000000000001 14.200000000000001v3.2l-14.200000000000001 14.200000000000001h-3.2l-14.200000000000001 -14.200000000000001v-3.2zM1054.4 1578.0h3.2l14.200000000000001 14.200000000000001v3.2l-14.200000000000001 14.200000000000001h-3.2l-14.200000000000001 -14.200000000000001v-3.2zM1060.8 1570.9h3.2l14.200000000000001 14.200000000000001v3.2l-14.200000000000001 14.200000000000001h-3.2l-14.200000000000001 -14.200000000000001v-3.2zM1067.2 1563.9h3.2l14.200000000000001 14.200000000000001v3.2l-14.200000000000001 14.200000000000001h-3.2l-14.200000000000001 -14.200000000000001v-3.2zM1073.6 1556.9h3.2l14.200000000000001 14.200000000000001v3.2l-14.200000000000001 14.200000000000001h-3.2l-14.200000000000001 -14.200000000000001v-3.2zM1080.0 1549.9h3.2l14.200000000000001 14.200000000000001v3.2l-14.200000000000001 14.200000000000001h-3.2l-14.200000000000001 -14.200000000000001v-3.2zM1086.4 1542.9h3.2l14.200000000000001 14.200000000000001v3.2l-14.200000000000001 14.200000000000001h-3.2l-14.200000000000001 -14.200000000000001v-3.2zM1092.8 1535.8h3.2l14.200000000000001 14.200000000000001v3.2l-14.200000000000001 14.200000000000001h-3.2l-14.200000000000001 -14.200000000000001v-3.2zM1099.2 1528.8h3.2l14.200000000000001 14.200000000000001v3.2l-14.200000000000001 14.200000000000001h-3.2l-14.200000000000001 -14.200000000000001v-3.2zM1105.6 1521.8h3.2l14.200000000000001 14.200000000000001v3.2l-14.200000000000001 14.200000000000001h-3.2l-14.200000000000001 -14.200000000000001v-3.2zM1112.0 1514.8h3.2l14.200000000000001 14.200000000000001v3.2l-14.200000000000001 14.200000000000001h-3.2l-14.200000000000001 -14.200000000000001v-3.2zM1118.4 1507.7h3.2l14.200000000000001 14.200000000000001v3.2l-14.200000000000001 14.200000000000001h-3.2l-14.200000000000001 -14.200000000000001v-3.2zM1119.8 1506.2h3.2l14.200000000000001 14.200000000000001v3.2l-14.200000000000001 14.200000000000001h-3.2l-14.200000000000001 -14.200000000000001v-3.2zM979.8 1650.5h3.2l14.200000000000001 14.200000000000001v3.2l-14.200000000000001 14.200000000000001h-3.2l-14.200000000000001 -14.200000000000001v-3.2zM1134.8 1484.9h3.2l14.200000000000001 14.200000000000001v3.2l-14.200000000000001 14.200000000000001h-3.2l-14.200000000000001 -14.200000000000001v-3.2zM1151.8 1464.0h3.2l14.200000000000001 14.200000000000001v3.2l-14.200000000000001 14.200000000000001h-3.2l-14.200000000000001 -14.200000000000001v-3.2zM1172.1 1440.6h3.2l14.200000000000001 14.200000000000001v3.2l-14.200000000000001 14.200000000000001h-3.2l-14.200000000000001 -14.200000000000001v-3.2zM1197.1 1405.5h3.2l14.200000000000001 14.200000000000001v3.2l-14.200000000000001 14.200000000000001h-3.2l-14.200000000000001 -14.200000000000001v-3.2zM1227.6 1363.7h3.2l14.200000000000001 14.200000000000001v3.2l-14.200000000000001 14.200000000000001h-3.2l-14.200000000000001 -14.200000000000001v-3.2zM1264.7 1308.5h3.2l14.200000000000001 14.200000000000001v3.2l-14.200000000000001 14.200000000000001h-3.2l-14.200000000000001 -14.200000000000001v-3.2zM1320.8 1230.0h3.2l14.200000000000001 14.200000000000001v3.2l-14.200000000000001 14.200000000000001h-3.2l-14.200000000000001 -14.200000000000001v-3.2zM1399.8 1102.5h3.2l14.200000000000001 14.200000000000001v3.2l-14.200000000000001 14.200000000000001h-3.2l-14.200000000000001 -14.200000000000001v-3.2zM1530.8 867.7h3.2l14.200000000000001 14.200000000000001v3.2l-14.200000000000001 14.200000000000001h-3.2l-14.200000000000001 -14.200000000000001v-3.2zM1578.6 788.9h3.2l14.200000000000001 14.200000000000001v3.2l-14.200000000000001 14.200000000000001h-3.2l-14.200000000000001 -14.200000000000001v-3.2zM1624.0 696.0h3.2l14.200000000000001 14.200000000000001v3.2l-14.200000000000001 14.200000000000001h-3.2l-14.200000000000001 -14.200000000000001v-3.2zM1689.4 575.2h3.2l14.200000000000001 14.200000000000001v3.2l-14.200000000000001 14.200000000000001h-3.2l-14.200000000000001 -14.200000000000001v-3.2zM1775.8 430.4h3.2l14.200000000000001 14.200000000000001v3.2l-14.200000000000001 14.200000000000001h-3.2l-14.200000000000001 -14.200000000000001v-3.2zM1854.4 209.4h3.2l14.200000000000001 14.200000000000001v3.2l-14.200000000000001 14.200000000000001h-3.2l-14.200000000000001 -14.200000000000001v-3.2z"/>
<rect x="247.0" y="40" width="1823.0" height="1747.0" fill="none" stroke="#000" stroke-width="8"/>
<g stroke="#000" stroke-width="1.8">
<line x1="233" y1="1787.1" x2="244" y2="1787.1"/>
<line x1="233" y1="1538.6" x2="244" y2="1538.6"/>
<line x1="233" y1="1286.9" x2="244" y2="1286.9"/>
<line x1="233" y1="1038.8" x2="244" y2="1038.8"/>
<line x1="233" y1="787.3" x2="244" y2="787.3"/>
<line x1="233" y1="539.5" x2="244" y2="539.5"/>
<line x1="233" y1="287.5" x2="244" y2="287.5"/>
<line x1="233" y1="39.4" x2="244" y2="39.4"/>
<line x1="247.5" y1="1790" x2="247.5" y2="1801"/>
<line x1="430.0" y1="1790" x2="430.0" y2="1801"/>
<line x1="612.8" y1="1790" x2="612.8" y2="1801"/>
<line x1="794.8" y1="1790" x2="794.8" y2="1801"/>
<line x1="977.7" y1="1790" x2="977.7" y2="1801"/>
<line x1="1160.2" y1="1790" x2="1160.2" y2="1801"/>
<line x1="1339.5" y1="1790" x2="1339.5" y2="1801"/>
<line x1="1521.9" y1="1790" x2="1521.9" y2="1801"/>
<line x1="1705.3" y1="1790" x2="1705.3" y2="1801"/>
<line x1="1887.7" y1="1790" x2="1887.7" y2="1801"/>
<line x1="2070.1" y1="1790" x2="2070.1" y2="1801"/>
</g>
<g font-family="Liberation Sans, Arial, sans-serif" font-size="44" fill="#000" stroke="#000" stroke-width="0.6">
<text x="214" y="1798.4" text-anchor="end">0</text>
<text x="214" y="1549.9" text-anchor="end">1000</text>
<text x="214" y="1298.2" text-anchor="end">2000</text>
<text x="214" y="1050.1" text-anchor="end">3000</text>
<text x="214" y="798.6" text-anchor="end">4000</text>
<text x="214" y="550.8" text-anchor="end">5000</text>
<text x="214" y="298.8" text-anchor="end">6000</text>
<text x="214" y="50.7" text-anchor="end">7000</text>
<text x="249.4" y="1863.3" text-anchor="middle">0</text>
<text x="431.9" y="1863.3" text-anchor="middle">500</text>
<text x="614.7" y="1863.3" text-anchor="middle">1000</text>
<text x="796.7" y="1863.3" text-anchor="middle">1500</text>
<text x="979.6" y="1863.3" text-anchor="middle">2000</text>
<text x="1162.1" y="1863.3" text-anchor="middle">2500</text>
<text x="1341.4" y="1863.3" text-anchor="middle">3000</text>
<text x="1523.8" y="1863.3" text-anchor="middle">3500</text>
<text x="1707.2" y="1863.3" text-anchor="middle">4000</text>
<text x="1889.6" y="1863.3" text-anchor="middle">4500</text>
<text x="2072.0" y="1863.3" text-anchor="middle">5000</text>
</g>
<text transform="translate(1179,1941) scale(1,1.07)" text-anchor="middle" font-family="Liberation Sans, Arial, sans-serif" font-weight="bold" font-size="50">Zr (Ohm)</text>
<text transform="translate(61,920.3) rotate(-90) scale(1,1.03)" text-anchor="middle" font-family="Liberation Sans, Arial, sans-serif" font-weight="bold" font-size="51.2">Zi (Ohm)</text>
<rect x="268" y="60" width="409.3" height="274.5" fill="#fff" stroke="#000" stroke-width="2"/>
<path fill="#1c007c" d="M345.4 113.2h3.2l14.200000000000001 14.200000000000001v3.2l-14.200000000000001 14.200000000000001h-3.2l-14.200000000000001 -14.200000000000001v-3.2z"/>
<text x="406.5" y="138.8" font-family="Liberation Sans, Arial, sans-serif" font-size="40" textLength="245.5" lengthAdjust="spacing" stroke="#000" stroke-width="0.5">Experimental</text>
<line x1="302.3" y1="260.4" x2="395.6" y2="260.4" stroke="#ff00ff" stroke-width="10.8" stroke-linecap="round"/>
<text x="407.5" y="272.3" font-family="Liberation Sans, Arial, sans-serif" font-size="40" textLength="96.5" lengthAdjust="spacing" stroke="#000" stroke-width="0.5">fitting</text>
<text x="1164" y="160.3" text-anchor="middle" font-family="Liberation Sans, Arial, sans-serif" font-size="62" stroke="#000" stroke-width="0.5">(a)</text>
</svg>
</body></html>
